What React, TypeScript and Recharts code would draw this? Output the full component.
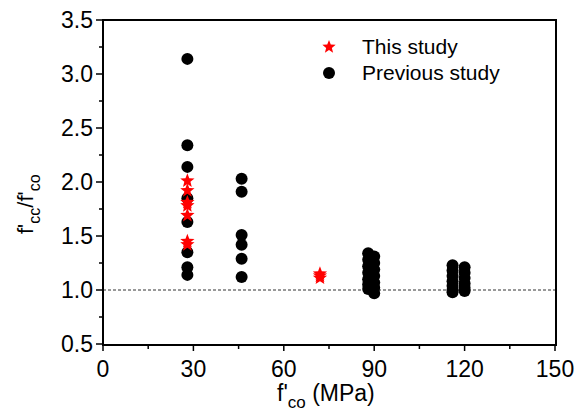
import React from 'react';
import {
  ScatterChart,
  Scatter,
  XAxis,
  YAxis,
  ReferenceLine,
  Legend,
} from 'recharts';

// ─── Data ───────────────────────────────────────────────────────

const xTicks = [0, 15, 30, 45, 60, 75, 90, 105, 120, 135, 150];
const yTicks = [0.5, 0.75, 1.0, 1.25, 1.5, 1.75, 2.0, 2.25, 2.5, 2.75, 3.0, 3.25, 3.5];

// previous study, ratio values per f'co
const prev28 = [3.14, 2.34, 2.14, 1.85, 1.63, 1.35, 1.21, 1.14];
const prev46 = [2.03, 1.91, 1.51, 1.42, 1.29, 1.12];
const prev88 = [1.34, 1.28, 1.22, 1.16, 1.1, 1.05, 1.01];
const prev90 = [1.31, 1.25, 1.19, 1.13, 1.07, 1.02, 0.97];
const prev116 = [1.23, 1.18, 1.13, 1.08, 1.04, 1.0, 0.98];
const prev120 = [1.21, 1.16, 1.11, 1.06, 1.02, 0.99];

// this study
const this28 = [2.02, 1.93, 1.82, 1.79, 1.7, 1.46, 1.43];
const this72 = [1.16, 1.14, 1.12];

const pts = (x: number, ys: number[]) => ys.map((y) => ({ x, y }));

const previousData = [
  ...pts(28, prev28),
  ...pts(46, prev46),
  ...pts(88, prev88),
  ...pts(90, prev90),
  ...pts(116, prev116),
  ...pts(120, prev120),
];
const thisData = [...pts(28, this28), ...pts(72, this72)];

const FONT = 'Arial, "Liberation Sans", sans-serif';
const RED = '#FF0000';

// ─── Shapes ─────────────────────────────────────────────────────

function starPath(cx: number, cy: number, ro: number, ri: number) {
  let d = '';
  for (let i = 0; i < 10; i++) {
    const r = i % 2 === 0 ? ro : ri;
    const a = -Math.PI / 2 + (i * Math.PI) / 5;
    d += (i === 0 ? 'M' : 'L') + (cx + r * Math.cos(a)).toFixed(2) + ',' + (cy + r * Math.sin(a)).toFixed(2);
  }
  return d + 'Z';
}

const Dot = (p: any) => <circle cx={p.cx} cy={p.cy} r={6} fill="#000" />;
const Star = (p: any) => <path d={starPath(p.cx, p.cy + 1, 7.5, 3.2)} fill={RED} />;

// ─── Ticks ──────────────────────────────────────────────────────

function XTick({ x, y, payload }: any) {
  const major = payload.value % 30 === 0;
  return (
    <g>
      <line x1={x} x2={x} y1={y} y2={y + (major ? 7 : 5)} stroke="#000" strokeWidth={1.5} />
      {major && (
        <text x={x} y={y + 33} textAnchor="middle" fontSize={23} fontFamily={FONT} fill="#000">
          {payload.value}
        </text>
      )}
    </g>
  );
}

function YTick({ x, y, payload }: any) {
  const major = Math.abs((payload.value * 2) % 1) < 1e-6;
  return (
    <g>
      <line x1={x} x2={x - (major ? 7 : 4)} y1={y} y2={y} stroke="#000" strokeWidth={1.5} />
      {major && (
        <text x={x - 10} y={y + 8} textAnchor="end" fontSize={23} fontFamily={FONT} fill="#000">
          {payload.value.toFixed(1)}
        </text>
      )}
    </g>
  );
}

function XTitle() {
  return (
    <text x={277} y={401} fontSize={23} fontFamily={FONT} fill="#000">
      f'
      <tspan fontSize={17} dy={7}>co</tspan>
      <tspan dy={-7}> (MPa)</tspan>
    </text>
  );
}

function YTitle() {
  return (
    <text transform="translate(33,234) rotate(-90)" fontSize={22} fontFamily={FONT} fill="#000">
      f'
      <tspan fontSize={16} dy={7}>cc</tspan>
      <tspan dy={-7}>/f'</tspan>
      <tspan fontSize={16} dy={7}>co</tspan>
    </text>
  );
}

function LegendBox() {
  return (
    <svg width={210} height={60} style={{ display: 'block' }}>
      <path d={starPath(19, 19, 7, 3)} fill={RED} />
      <text x={52} y={26} fontSize={21} fontFamily={FONT} fill="#000">This study</text>
      <circle cx={19} cy={45} r={6} fill="#000" />
      <text x={52} y={52} fontSize={21} fontFamily={FONT} fill="#000">Previous study</text>
    </svg>
  );
}

export default function App() {
  return (
    <div style={{ position: 'absolute', left: 0, top: 0, width: 585, height: 412, background: '#fff' }}>
      <ScatterChart width={585} height={412} margin={{ top: 20, right: 30, bottom: 8, left: 43 }}>
        <XAxis
          type="number"
          dataKey="x"
          domain={[0, 150]}
          ticks={xTicks}
          interval={0}
          height={60}
          tickSize={0}
          tickMargin={0}
          tickLine={false}
          axisLine={false}
          tick={<XTick />}
          label={<XTitle />}
        />
        <YAxis
          type="number"
          dataKey="y"
          domain={[0.5, 3.5]}
          ticks={yTicks}
          interval={0}
          width={60}
          tickSize={0}
          tickMargin={0}
          tickLine={false}
          axisLine={false}
          tick={<YTick />}
          label={<YTitle />}
        />
        <ReferenceLine y={1} stroke="#333" strokeDasharray="3 2" strokeWidth={1} />
        <Legend
          layout="horizontal"
          verticalAlign="middle"
          align="center"
          wrapperStyle={{ top: 28, left: 310, width: 210 }}
          content={() => <LegendBox />}
        />
        <Scatter name="Previous study" data={previousData} shape={Dot} isAnimationActive={false} />
        <Scatter name="This study" data={thisData} shape={Star} isAnimationActive={false} />
      </ScatterChart>
      {/* plot frame */}
      <div
        style={{
          position: 'absolute',
          left: 102,
          top: 19,
          width: 451,
          height: 323,
          border: '2px solid #000',
          pointerEvents: 'none',
          boxSizing: 'content-box',
        }}
      />
    </div>
  );
}
